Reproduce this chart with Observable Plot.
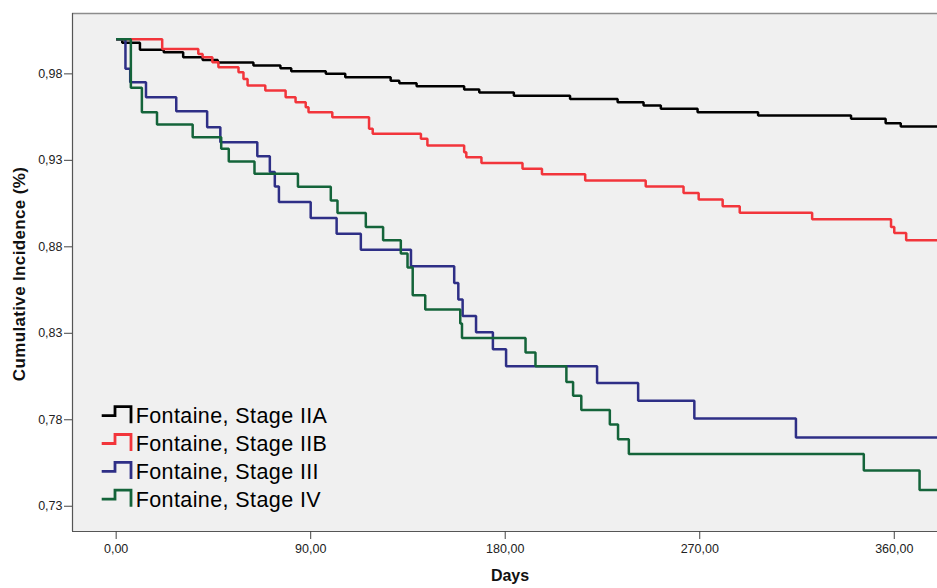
<!DOCTYPE html>
<html><head><meta charset="utf-8">
<script src="https://cdn.jsdelivr.net/npm/d3@7"></script>
<script src="https://cdn.jsdelivr.net/npm/@observablehq/plot@0.6"></script>
<style>body{margin:0;background:#fff}</style>
</head><body><div id="chart"></div>
<script>
const seriesNames = ["Fontaine, Stage IIA", "Fontaine, Stage IIB", "Fontaine, Stage III", "Fontaine, Stage IV"];
const seriesColors = ["#000000", "#f2353b", "#2e2f86", "#14643a"];

const daysIIA = [0,2.8,11,22,31,40,47,63.5,76,81,97,106,127,131,139,161,168,184,210,232,244,252,269,297,340,356,363,380];
const incIIA  = [1.0,0.998,0.994,0.9925,0.9896,0.988,0.9865,0.9848,0.9832,0.9815,0.98,0.978,0.976,0.9746,0.9728,0.9709,0.9692,0.9673,0.9655,0.9636,0.9617,0.9598,0.9578,0.9559,0.954,0.9515,0.9496,0.9496];

const daysIIB = [0,21.3,38,40,44.5,47.3,56.6,58.9,60.8,69,78.4,83,87.7,89,100,117,118.7,141,144,161,162,169,188,197,217,245,262.5,269.5,280.6,288.5,322,358.5,360,365.5,380];
const incIIB  = [1.0,0.9944,0.9915,0.9896,0.9867,0.9838,0.9809,0.9771,0.9732,0.9704,0.9665,0.9636,0.9607,0.9578,0.9549,0.9482,0.9454,0.9425,0.9386,0.9347,0.9318,0.9284,0.9251,0.9219,0.9184,0.9149,0.9111,0.9073,0.9034,0.8997,0.8959,0.8914,0.888,0.8838,0.8838];

const daysIII = [0,4.3,6.5,13.8,27.8,42.1,48.2,65.3,71.1,73.4,75.3,90,102,113.2,136.4,156.4,158.3,160.3,166.5,174.3,180.4,222.5,241.5,267.5,314.5,380];
const incIII  = [1.0,0.9829,0.9752,0.9665,0.9584,0.9492,0.9405,0.9323,0.9232,0.9149,0.9059,0.8966,0.8876,0.8783,0.8687,0.8591,0.8495,0.840,0.8306,0.8208,0.811,0.8012,0.791,0.7808,0.7698,0.7698];

const daysIV = [0,6.8,11.9,18.9,35.4,48.6,52.1,64,84.1,99.3,102.4,115.5,123.5,131.7,134.8,137.2,143,159.2,160,189.4,194,208.3,211.4,215.2,228.4,232.2,237.2,345.9,371.7,380];
const incIV  = [1.0,0.9719,0.9578,0.9507,0.9434,0.9367,0.9294,0.9223,0.9148,0.9068,0.8995,0.8914,0.8838,0.8761,0.868,0.852,0.8437,0.8357,0.8273,0.8189,0.811,0.8019,0.7939,0.7856,0.7773,0.7687,0.7602,0.7506,0.7394,0.7394];

const xTicks = [0, 90, 180, 270, 360];
const yTicks = [0.73, 0.78, 0.83, 0.88, 0.93, 0.98];
const xDomain = [-20.2, 380];
const yDomain = [0.7154, 1.0149];

const rows = [];
[[daysIIA, incIIA], [daysIIB, incIIB], [daysIII, incIII], [daysIV, incIV]].forEach(([d, v], i) => {
  d.forEach((day, j) => rows.push({series: seriesNames[i], day, inc: v[j]}));
});

const locale = d3.formatLocale({decimal: ",", thousands: ".", grouping: [3], currency: ["", ""]});
const fmt = locale.format(".2f");

const plot = Plot.plot({
  width: 937, height: 588,
  marginLeft: 72, marginRight: 0, marginTop: 13, marginBottom: 57,
  style: {fontFamily: "'Liberation Sans', Arial, sans-serif", fontSize: "12.5px", color: "#222", background: "#fff", overflow: "visible"},
  x: {domain: xDomain},
  y: {domain: yDomain},
  color: {domain: seriesNames, range: seriesColors},
  marks: [
    Plot.frame({fill: "#f0f0f0", stroke: null}),
    Plot.ruleY([yDomain[1]], {stroke: "#8c8c8c", strokeWidth: 1.5}),
    Plot.ruleX([xDomain[0]], {stroke: "#555", strokeWidth: 1.2}),
    Plot.ruleY([yDomain[0]], {stroke: "#555", strokeWidth: 1.2}),
    Plot.axisX({ticks: xTicks, tickFormat: fmt, tickSize: 8, tickPadding: 5, label: null, stroke: "#444"}),
    Plot.axisY({ticks: yTicks, tickFormat: fmt, tickSize: 8, tickPadding: 2, label: null, stroke: "#444"}),
    Plot.line(rows, {x: "day", y: "inc", z: "series", stroke: "series", curve: "step-after", strokeWidth: 2.5, strokeLinejoin: "miter", strokeLinecap: "butt", clip: true})
  ]
});

const svg = d3.select(plot);
svg.append("text")
  .attr("x", 510).attr("y", 581)
  .attr("text-anchor", "middle")
  .attr("font-weight", "bold").attr("font-size", 16).attr("fill", "#111")
  .text("Days");
svg.append("text")
  .attr("transform", "translate(25,274) rotate(-90)")
  .attr("text-anchor", "middle")
  .attr("font-weight", "bold").attr("font-size", 17).attr("letter-spacing", 0.35).attr("fill", "#111")
  .text("Cumulative Incidence (%)");

const legend = svg.append("g").attr("transform", "translate(101.7,423.3)").attr("text-anchor", "start");
seriesNames.forEach((name, i) => {
  const g = legend.append("g").attr("transform", `translate(0,${i * 27.8})`);
  g.append("path")
    .attr("d", "M0,-7.6H13.3V-16.6H29.3V0")
    .attr("fill", "none").attr("stroke", seriesColors[i]).attr("stroke-width", 2.8);
  g.append("text")
    .attr("x", 34).attr("y", 0)
    .attr("text-anchor", "start")
    .attr("font-size", 21.5).attr("letter-spacing", 0.4).attr("fill", "#000")
    .text(name);
});

document.getElementById("chart").appendChild(plot);
</script>
</body></html>
